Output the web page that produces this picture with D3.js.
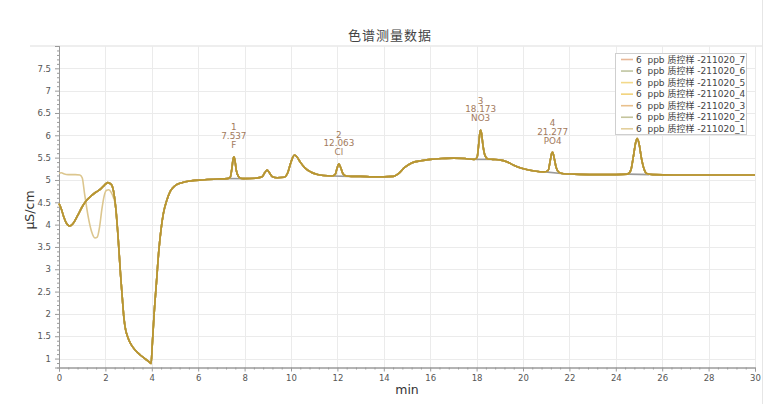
<!DOCTYPE html>
<html>
<head>
<meta charset="utf-8">
<script src="https://cdn.jsdelivr.net/npm/d3@7"></script>
<style>
html,body{margin:0;padding:0;background:#fff;}
svg{display:block;}
</style>
</head>
<body>
<svg id="chart" width="779" height="404"></svg>
<script>
// ---------- data ----------
const chartTitle = "色谱测量数据";
const xLabel = "min";
const yLabel = "μS/cm";
const seriesNames = [
  "6  ppb 质控样 -211020_7",
  "6  ppb 质控样 -211020_6",
  "6  ppb 质控样 -211020_5",
  "6  ppb 质控样 -211020_4",
  "6  ppb 质控样 -211020_3",
  "6  ppb 质控样 -211020_2",
  "6  ppb 质控样 -211020_1"
];
const xTicks = [0,2,4,6,8,10,12,14,16,18,20,22,24,26,28,30];
const yTicks = [1,1.5,2,2.5,3,3.5,4,4.5,5,5.5,6,6.5,7,7.5];

// common trace (series _2 ... _7)
const commonTime = [0.0,0.1,0.2,0.3,0.45,0.6,0.8,1.0,1.2,1.4,1.6,1.8,1.95,2.1,2.25,2.35,2.45,2.55,2.65,2.73,2.8,2.87,2.95,3.06,3.3,3.5,3.7,3.9,3.97,4.02,4.1,4.2,4.3,4.4,4.5,4.65,4.8,5.0,5.3,5.7,6.2,6.8,7.25,7.38,7.45,7.5,7.54,7.58,7.64,7.72,7.82,7.95,8.5,8.75,8.88,8.97,9.07,9.2,9.4,9.7,9.85,9.97,10.07,10.15,10.25,10.4,10.6,10.85,11.1,11.4,11.75,11.9,11.98,12.06,12.14,12.24,12.37,12.6,13.0,13.5,14.0,14.4,14.65,14.9,15.2,15.6,16.0,16.5,17.0,17.5,17.9,18.02,18.09,18.14,18.17,18.21,18.28,18.36,18.48,18.7,19.0,19.3,19.6,19.9,20.2,20.5,20.9,21.08,21.18,21.24,21.28,21.34,21.43,21.55,21.75,22.2,23.0,24.0,24.5,24.65,24.75,24.85,24.92,25.0,25.1,25.22,25.35,25.6,26.5,28.0,30.0];
const commonValue = [4.47,4.35,4.18,4.05,3.97,4.02,4.2,4.4,4.55,4.65,4.73,4.8,4.88,4.94,4.9,4.75,4.35,3.7,2.9,2.35,1.9,1.65,1.5,1.36,1.18,1.08,1.0,0.92,0.89,1.3,2.0,2.7,3.4,3.9,4.25,4.55,4.75,4.87,4.94,4.98,5.0,5.02,5.03,5.06,5.25,5.45,5.52,5.45,5.22,5.09,5.04,5.03,5.04,5.07,5.17,5.22,5.16,5.07,5.05,5.06,5.15,5.35,5.5,5.56,5.52,5.4,5.27,5.18,5.13,5.1,5.09,5.12,5.25,5.36,5.28,5.14,5.09,5.08,5.08,5.07,5.07,5.08,5.15,5.28,5.38,5.43,5.46,5.48,5.49,5.48,5.46,5.5,5.8,6.05,6.12,6.05,5.75,5.55,5.47,5.46,5.45,5.41,5.33,5.27,5.23,5.2,5.18,5.21,5.45,5.6,5.62,5.5,5.28,5.17,5.14,5.13,5.12,5.12,5.13,5.22,5.5,5.82,5.93,5.82,5.5,5.24,5.14,5.12,5.11,5.11,5.11];

// series _1 start differs (until it joins the common trace)
const series1HeadTime  = [0.0,0.1,0.2,0.4,0.7,0.9,1.0,1.1,1.25,1.4,1.55,1.65,1.75,1.85,1.95,2.05,2.15,2.25,2.35,2.45];
const series1HeadValue = [5.15,5.16,5.14,5.12,5.12,5.11,5.05,4.7,4.2,3.85,3.7,3.72,3.95,4.35,4.65,4.77,4.78,4.72,4.6,4.4];

// peak annotations
const peakNumbers = ["1","2","3","4"];
const peakTimes   = [7.537, 12.063, 18.173, 21.277];
const peakNames   = ["F","Cl","NO3","PO4"];
const peakTops    = [5.52, 5.36, 6.12, 5.62];

// integration baselines [start, end, startValue, endValue]
const baseStart = [7.25, 11.75, 17.95, 20.95, 24.5];
const baseEnd   = [7.95, 12.5, 18.75, 21.75, 25.45];
const baseStartV= [5.03, 5.09, 5.46, 5.18, 5.13];
const baseEndV  = [5.03, 5.08, 5.46, 5.14, 5.12];

// ---------- styles ----------
const lineColors = ["#c9a46e","#a9a97c","#e0bc50","#b8962e","#d8a860","#aaa880","#dcc68e"];
const legendColors = ["#e8b898","#bfc4a0","#f3d98a","#f2d27a","#e9c08c","#c4c49c","#e3cf9c"];
const drawOrder = [6,5,4,2,1,0,3];

// ---------- chart ----------
const svg = d3.select("#chart");
const L = 59, R = 755, T = 46, B = 367.5;
const x = d3.scaleLinear().domain([0,30]).range([L,R]);
const y = d3.scaleLinear().domain([0.8,8.0]).range([B,T]);

const fontLatin = "'DejaVu Sans', Verdana, sans-serif";
const fontCJK = "'DejaVu Sans','Noto Sans CJK SC', sans-serif";

// frame lines
svg.append("line").attr("x1",30).attr("x2",762).attr("y1",T).attr("y2",T)
  .attr("stroke","#dddddd").attr("stroke-width",1);
svg.append("line").attr("x1",762.5).attr("x2",762.5).attr("y1",0).attr("y2",404)
  .attr("stroke","#e6e6e6").attr("stroke-width",1);

// grid
const grid = svg.append("g");
grid.selectAll(".gx").data(xTicks.slice(1)).enter().append("line")
  .attr("x1",d=>Math.round(x(d))+0.5).attr("x2",d=>Math.round(x(d))+0.5)
  .attr("y1",T).attr("y2",B).attr("stroke","#ebebeb");
grid.selectAll(".gy").data(yTicks).enter().append("line")
  .attr("x1",L).attr("x2",R)
  .attr("y1",d=>Math.round(y(d))+0.5).attr("y2",d=>Math.round(y(d))+0.5).attr("stroke","#ebebeb");

// axes
const axisColor = "#9a9a9a";
svg.append("g").attr("transform",`translate(${L},0)`)
  .call(d3.axisLeft(y).tickValues(yTicks).tickSize(4).tickPadding(4).tickFormat(d=>d3.format("")(d)));
svg.append("g").attr("transform",`translate(0,${B})`)
  .call(d3.axisBottom(x).tickValues(xTicks).tickSize(4).tickPadding(3));
// minor ticks
const yMinor = d3.range(9,80,1).map(d=>d/10).filter(v=>Math.abs(v*2-Math.round(v*2))>1e-6);
const xMinor = d3.range(1,75,1).map(d=>d*0.4).filter(v=>v<30 && Math.abs(v/2-Math.round(v/2))>1e-6);
svg.append("g").attr("transform",`translate(${L},0)`)
  .call(d3.axisLeft(y).tickValues(yMinor).tickSize(2).tickFormat(""));
svg.append("g").attr("transform",`translate(0,${B})`)
  .call(d3.axisBottom(x).tickValues(xMinor).tickSize(2).tickFormat(""));
svg.selectAll(".domain, .tick line").attr("stroke",axisColor);
svg.selectAll(".tick text").attr("fill","#555").style("font-family",fontLatin).style("font-size","8.5px");

// baselines
svg.append("g").selectAll("line").data(baseStart).enter().append("line")
  .attr("x1",(d)=>x(d)).attr("x2",(d,i)=>x(baseEnd[i]))
  .attr("y1",(d,i)=>y(baseStartV[i])).attr("y2",(d,i)=>y(baseEndV[i]))
  .attr("stroke","#9a9a9a").attr("stroke-width",1.6);

// series data
const common = commonTime.map((t,i)=>[t,commonValue[i]]);
const s1 = series1HeadTime.map((t,i)=>[t,series1HeadValue[i]]).concat(common.filter(p=>p[0]>=2.55));
const seriesData = seriesNames.map((n,i)=> i===6 ? s1 : common);

const line = d3.line().x(d=>x(d[0])).y(d=>y(d[1])).curve(d3.curveMonotoneX);
const plot = svg.append("g");
drawOrder.forEach(i=>{
  plot.append("path").datum(seriesData[i]).attr("d",line)
    .attr("fill","none").attr("stroke",lineColors[i]).attr("stroke-width",1.6)
    .attr("stroke-linejoin","round");
});

// peak labels
const lab = svg.append("g").style("font-family",fontLatin).style("font-size","8.8px")
  .attr("fill","#a27a5c").attr("text-anchor","middle");
peakTimes.forEach((t,i)=>{
  const py = y(peakTops[i]);
  [peakNumbers[i], d3.format(".3f")(t), peakNames[i]].forEach((s,k)=>{
    lab.append("text").attr("x",x(t)).attr("y",py - 29.3 + k*8.8 + 3).text(s);
  });
});

// title and axis labels
svg.append("text").attr("x",390).attr("y",40).attr("text-anchor","middle")
  .style("font-family","'Noto Sans CJK SC', sans-serif").style("font-size","13px")
  .style("letter-spacing","1px")
  .attr("fill","#444").text(chartTitle);
svg.append("text").attr("transform","translate(34,210) rotate(-90)").attr("text-anchor","middle")
  .style("font-family",fontLatin).style("font-size","12.5px").attr("fill","#333").text(yLabel);
svg.append("text").attr("x",407).attr("y",394).attr("text-anchor","middle")
  .style("font-family",fontLatin).style("font-size","12.5px").attr("fill","#333").text(xLabel);

// legend
const lg = svg.append("g");
lg.append("rect").attr("x",615.5).attr("y",53.5).attr("width",131).attr("height",81)
  .attr("fill","#fff").attr("stroke","#cfcfcf");
seriesNames.forEach((n,i)=>{
  const ly = 59.5 + i*11.55;
  lg.append("line").attr("x1",621).attr("x2",633).attr("y1",ly).attr("y2",ly)
    .attr("stroke",legendColors[i]).attr("stroke-width",1.6);
  lg.append("text").attr("x",636).attr("y",ly+3.2).text(n)
    .style("white-space","pre").attr("xml:space","preserve")
    .style("font-family",fontCJK).style("font-size","9px").attr("fill","#444");
});
</script>
</body>
</html>
